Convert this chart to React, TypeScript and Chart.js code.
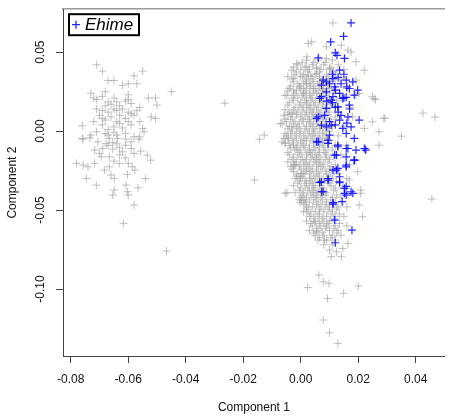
import React, { useEffect, useRef } from 'react';
import { Chart, registerables } from 'chart.js';

Chart.register(...registerables);

// ---- axis ticks ----
const xTickValues = [-0.08, -0.06, -0.04, -0.02, 0.0, 0.02, 0.04];
const yTickValues = [-0.1, -0.05, 0.0, 0.05];
const xRange = [-0.0827, 0.0501];
const yRange = [-0.1424, 0.0772];
const xTitle = 'Component 1';
const yTitle = 'Component 2';
const highlightLabel = 'Ehime';

// ---- data (Component 1, Component 2) ----
const grayLeftCluster: number[][] = [
  [-0.071, 0.042], [-0.069, 0.038], [-0.067, 0.032], [-0.065, 0.032], [-0.062, 0.029], [-0.060, 0.030],
  [-0.058, 0.035], [-0.055, 0.038], [-0.057, 0.030], [-0.073, 0.024], [-0.068, 0.025], [-0.072, 0.021],
  [-0.071, 0.020], [-0.069, 0.022], [-0.065, 0.021], [-0.064, 0.0185], [-0.067, 0.0185], [-0.060, 0.023],
  [-0.060, 0.020], [-0.059, 0.0175], [-0.053, 0.021], [-0.0505, 0.021], [-0.050, 0.0165], [-0.056, 0.015],
  [-0.071, 0.014], [-0.069, 0.013], [-0.067, 0.012], [-0.065, 0.014], [-0.064, 0.013], [-0.062, 0.014],
  [-0.060, 0.012], [-0.059, 0.011], [-0.058, 0.010], [-0.076, 0.0034], [-0.072, 0.006], [-0.069, 0.004],
  [-0.068, 0.007], [-0.065, 0.0027], [-0.063, 0.005], [-0.060, 0.006], [-0.056, 0.006], [-0.055, 0.0017],
  [-0.0505, 0.008], [-0.052, 0.009], [-0.073, -0.0025], [-0.071, -0.0004], [-0.068, -0.0015], [-0.067, -0.0025],
  [-0.064, -0.0025], [-0.061, -0.0015], [-0.058, -0.0036], [-0.0545, -0.0004], [-0.056, -0.0036], [-0.076, -0.0046],
  [-0.066, 0.017], [-0.063, 0.010], [-0.069, 0.008], [-0.064, 0.006], [-0.061, 0.019], [-0.067, 0.001],
  [-0.062, 0.002], [-0.065, -0.001], [-0.059, 0.004], [-0.070, 0.010], [-0.066, 0.009], [-0.061, 0.008],
  [-0.057, 0.013], [-0.063, 0.016], [-0.068, 0.016],
  [-0.0757, -0.0051], [-0.0734, -0.0042], [-0.0706, -0.0068], [-0.0666, -0.0046], [-0.0654, -0.0072],
  [-0.0637, -0.0046], [-0.0677, -0.0078], [-0.0608, -0.0051], [-0.059, -0.0068], [-0.0563, -0.0051],
  [-0.0717, -0.012], [-0.070, -0.0141], [-0.0689, -0.011], [-0.0654, -0.0114], [-0.0631, -0.0106],
  [-0.062, -0.0131], [-0.059, -0.011], [-0.058, -0.0141], [-0.0557, -0.0127], [-0.0534, -0.0152],
  [-0.0522, -0.0184], [-0.0694, -0.0163], [-0.0666, -0.0163], [-0.078, -0.0204], [-0.0757, -0.0215],
  [-0.074, -0.0226], [-0.0717, -0.0204], [-0.0666, -0.0226], [-0.0631, -0.0204], [-0.060, -0.0204],
  [-0.0586, -0.0226], [-0.0577, -0.0247], [-0.0683, -0.0247], [-0.0746, -0.030], [-0.0711, -0.0342],
  [-0.066, -0.0278], [-0.0649, -0.030], [-0.0603, -0.0274], [-0.054, -0.030], [-0.0608, -0.0342],
  [-0.0566, -0.0359], [-0.0649, -0.0373], [-0.0654, -0.0405], [-0.0603, -0.0384], [-0.060, -0.0405],
  [-0.058, -0.0468], [-0.0617, -0.0584],
  [-0.064, -0.008], [-0.061, -0.009], [-0.067, -0.009], [-0.063, -0.015], [-0.061, -0.017], [-0.065, -0.019],
];

const grayOutliers: number[][] = [
  [-0.045, 0.025], [-0.0264, 0.0177], [-0.0467, -0.0759], [-0.0161, -0.031], [-0.0144, -0.0051],
  [-0.0127, -0.0025], [0.0425, 0.0114], [0.0467, 0.0089], [0.0456, -0.043], [0.035, -0.0032], [0.0292, 0.0082],
  [0.0063, -0.0911], [0.0078, -0.0954], [0.0098, -0.0964], [0.0024, -0.099], [0.0093, -0.1059],
  [0.0149, -0.1027], [0.020, -0.0981], [0.0078, -0.1196], [0.010, -0.1277], [0.0129, -0.1344],
];

const grayMainEdge: number[][] = [
  [0.0112, 0.0685], [0.0026, 0.0555], [0.0038, 0.0565], [0.0089, 0.0534], [0.0141, 0.0544], [0.0164, 0.0513],
  [0.0175, 0.050], [0.0021, 0.047], [0.0089, 0.046], [0.0192, 0.0439], [-0.0014, 0.0428], [-0.0031, 0.0386],
  [0.0021, 0.0407], [0.0055, 0.0397], [0.010, 0.0397], [0.0221, 0.0386], [-0.0025, 0.0333], [-0.0002, 0.0344],
  [0.0026, 0.0354], [0.0055, 0.0365], [0.0066, 0.0333], [0.0112, 0.0375], [0.0192, 0.0323], [-0.0025, 0.026],
  [-0.0048, 0.0228], [-0.0002, 0.028], [0.0021, 0.030], [0.0043, 0.027], [0.0009, 0.0239], [0.0055, 0.0239],
  [0.0078, 0.026], [0.0249, 0.0218], [0.0203, 0.0239], [0.026, 0.020],
  [-0.0059, 0.010], [-0.0071, 0.0049], [-0.0031, 0.0027], [-0.0059, -0.0046], [-0.0054, -0.0078],
  [-0.0025, -0.0089], [-0.0025, -0.0215], [0.0003, -0.0268], [-0.0048, -0.039], [0.0003, -0.0437],
  [0.0255, 0.0207], [0.0226, -0.011], [0.0272, -0.0004], [0.0272, -0.0089], [0.0209, -0.0394], [0.0192, 0.0228],
  [-0.0031, 0.0112], [-0.0042, -0.0046], [-0.0065, -0.0068], [-0.002, -0.0215], [-0.0002, -0.0289],
  [0.0289, 0.008], [0.0249, 0.0059], [0.0221, 0.0017], [0.0192, -0.0184], [0.0198, -0.0257], [0.0169, -0.031],
  [-0.0054, -0.0394], [-0.0002, -0.0453], [0.0021, -0.051], [0.0049, -0.0574], [0.0055, -0.0637],
  [0.0083, -0.069], [0.0106, -0.0795], [0.0141, -0.0795], [0.0146, -0.0743], [0.0164, -0.0711],
  [0.0215, -0.0542], [0.0203, -0.0468], [0.0209, -0.0373], [0.010, -0.0753], [0.0124, -0.0764],
];

const grayMainCore: number[][] = [
  [0.002, 0.045], [0.006, 0.045], [0.011, 0.045],
  [-0.001, 0.042], [0.004, 0.042], [0.008, 0.042], [0.013, 0.042],
  [0.000, 0.039], [0.003, 0.039], [0.007, 0.039], [0.010, 0.039], [0.015, 0.039],
  [-0.002, 0.036], [0.001, 0.036], [0.005, 0.036], [0.009, 0.036], [0.012, 0.036],
  [-0.003, 0.033], [0.002, 0.033], [0.004, 0.033], [0.008, 0.033], [0.011, 0.033], [0.014, 0.033],
  [-0.001, 0.030], [0.001, 0.030], [0.003, 0.030], [0.006, 0.030], [0.009, 0.030], [0.012, 0.030],
  [-0.004, 0.027], [0.000, 0.027], [0.002, 0.027], [0.005, 0.027], [0.008, 0.027], [0.010, 0.027], [0.016, 0.027],
  [-0.002, 0.024], [0.001, 0.024], [0.003, 0.024], [0.006, 0.024], [0.009, 0.024], [0.012, 0.024],
  [-0.003, 0.021], [-0.001, 0.021], [0.002, 0.021], [0.004, 0.021], [0.007, 0.021], [0.010, 0.021], [0.014, 0.021],
  [-0.004, 0.018], [0.000, 0.018], [0.002, 0.018], [0.005, 0.018], [0.008, 0.018], [0.011, 0.018],
  [-0.002, 0.015], [0.001, 0.015], [0.003, 0.015], [0.006, 0.015], [0.009, 0.015], [0.013, 0.015], [0.017, 0.015],
  [-0.004, 0.012], [-0.001, 0.012], [0.002, 0.012], [0.004, 0.012], [0.007, 0.012], [0.010, 0.012],
  [-0.003, 0.009], [0.000, 0.009], [0.003, 0.009], [0.005, 0.009], [0.008, 0.009], [0.012, 0.009], [0.018, 0.009],
  [-0.005, 0.006], [-0.002, 0.006], [0.001, 0.006], [0.003, 0.006], [0.006, 0.006], [0.009, 0.006],
  [-0.004, 0.003], [-0.001, 0.003], [0.002, 0.003], [0.004, 0.003], [0.007, 0.003], [0.011, 0.003], [0.015, 0.003],
  [-0.003, 0.000], [0.000, 0.000], [0.003, 0.000], [0.005, 0.000], [0.008, 0.000], [0.010, 0.000],
  [-0.005, -0.003], [-0.002, -0.003], [0.001, -0.003], [0.004, -0.003], [0.006, -0.003], [0.009, -0.003], [0.013, -0.003],
  [-0.003, -0.006], [0.000, -0.006], [0.002, -0.006], [0.005, -0.006], [0.007, -0.006], [0.010, -0.006],
  [-0.004, -0.009], [-0.001, -0.009], [0.001, -0.009], [0.003, -0.009], [0.006, -0.009], [0.008, -0.009], [0.012, -0.009], [0.016, -0.009],
  [-0.002, -0.012], [0.000, -0.012], [0.003, -0.012], [0.005, -0.012], [0.008, -0.012], [0.011, -0.012],
  [-0.004, -0.015], [-0.001, -0.015], [0.002, -0.015], [0.004, -0.015], [0.006, -0.015], [0.009, -0.015], [0.014, -0.015],
  [-0.003, -0.018], [0.000, -0.018], [0.002, -0.018], [0.005, -0.018], [0.007, -0.018], [0.010, -0.018],
  [-0.002, -0.021], [0.001, -0.021], [0.003, -0.021], [0.006, -0.021], [0.008, -0.021], [0.012, -0.021], [0.017, -0.021],
  [-0.003, -0.024], [0.000, -0.024], [0.002, -0.024], [0.004, -0.024], [0.007, -0.024], [0.010, -0.024],
  [-0.001, -0.027], [0.001, -0.027], [0.003, -0.027], [0.006, -0.027], [0.009, -0.027], [0.013, -0.027],
  [-0.002, -0.030], [0.000, -0.030], [0.003, -0.030], [0.005, -0.030], [0.008, -0.030], [0.011, -0.030], [0.016, -0.030],
  [-0.001, -0.033], [0.002, -0.033], [0.004, -0.033], [0.007, -0.033], [0.010, -0.033],
  [0.000, -0.036], [0.003, -0.036], [0.005, -0.036], [0.008, -0.036], [0.012, -0.036], [0.015, -0.036],
  [-0.002, -0.039], [0.001, -0.039], [0.004, -0.039], [0.006, -0.039], [0.009, -0.039],
  [0.000, -0.042], [0.002, -0.042], [0.005, -0.042], [0.007, -0.042], [0.011, -0.042], [0.014, -0.042],
  [0.001, -0.045], [0.003, -0.045], [0.006, -0.045], [0.009, -0.045], [0.012, -0.045],
  [0.002, -0.048], [0.004, -0.048], [0.007, -0.048], [0.010, -0.048], [0.013, -0.048], [0.016, -0.048],
  [0.001, -0.051], [0.005, -0.051], [0.008, -0.051], [0.011, -0.051],
  [0.003, -0.054], [0.006, -0.054], [0.009, -0.054], [0.012, -0.054], [0.015, -0.054],
  [0.002, -0.057], [0.005, -0.057], [0.008, -0.057], [0.010, -0.057],
  [0.004, -0.060], [0.007, -0.060], [0.009, -0.060], [0.012, -0.060], [0.016, -0.060],
  [0.003, -0.063], [0.006, -0.063], [0.010, -0.063], [0.013, -0.063],
  [0.005, -0.066], [0.008, -0.066], [0.011, -0.066], [0.014, -0.066],
  [0.006, -0.069], [0.009, -0.069], [0.012, -0.069],
  [0.008, -0.072], [0.011, -0.072],
];

const grayMainFill: number[][] = [
  [0.0005, 0.0435], [0.0045, 0.0435], [0.0085, 0.0435],
  [-0.0025, 0.0405], [0.0015, 0.0405], [0.0055, 0.0405], [0.0105, 0.0405],
  [-0.0015, 0.0375], [0.0025, 0.0375], [0.0065, 0.0375], [0.0115, 0.0375],
  [-0.0045, 0.0345], [0.0005, 0.0345], [0.0035, 0.0345], [0.0065, 0.0345], [0.0095, 0.0345],
  [-0.0025, 0.0315], [0.0015, 0.0315], [0.0045, 0.0315], [0.0075, 0.0315], [0.0105, 0.0315],
  [-0.0035, 0.0285], [-0.0005, 0.0285], [0.0035, 0.0285], [0.0065, 0.0285], [0.0095, 0.0285],
  [-0.0045, 0.0255], [-0.0015, 0.0255], [0.0015, 0.0255], [0.0045, 0.0255], [0.0075, 0.0255], [0.0115, 0.0255],
  [-0.0055, 0.0225], [-0.0025, 0.0225], [0.0005, 0.0225], [0.0035, 0.0225], [0.0085, 0.0225],
  [-0.0025, 0.0195], [0.0015, 0.0195], [0.0035, 0.0195], [0.0065, 0.0195], [0.0095, 0.0195], [0.0125, 0.0195],
  [-0.0045, 0.0165], [-0.0005, 0.0165], [0.0025, 0.0165], [0.0045, 0.0165], [0.0075, 0.0165], [0.0105, 0.0165],
  [-0.0055, 0.0135], [-0.0025, 0.0135], [0.0005, 0.0135], [0.0035, 0.0135], [0.0055, 0.0135], [0.0085, 0.0135],
  [-0.0045, 0.0105], [-0.0015, 0.0105], [0.0015, 0.0105], [0.0045, 0.0105], [0.0065, 0.0105], [0.0095, 0.0105],
  [-0.0055, 0.0075], [-0.0035, 0.0075], [0.0005, 0.0075], [0.0025, 0.0075], [0.0045, 0.0075], [0.0075, 0.0075], [0.0105, 0.0075],
  [-0.0065, 0.0045], [-0.0025, 0.0045], [-0.0005, 0.0045], [0.0035, 0.0045], [0.0055, 0.0045], [0.0085, 0.0045],
  [-0.0045, 0.0015], [-0.0015, 0.0015], [0.0015, 0.0015], [0.0045, 0.0015], [0.0065, 0.0015], [0.0095, 0.0015],
  [-0.0055, -0.0015], [-0.0035, -0.0015], [-0.0005, -0.0015], [0.0025, -0.0015], [0.0045, -0.0015], [0.0075, -0.0015],
  [-0.0045, -0.0045], [-0.0015, -0.0045], [0.0015, -0.0045], [0.0035, -0.0045], [0.0065, -0.0045], [0.0085, -0.0045],
  [-0.0055, -0.0075], [-0.0025, -0.0075], [0.0005, -0.0075], [0.0045, -0.0075], [0.0075, -0.0075], [0.0095, -0.0075],
  [-0.0035, -0.0105], [-0.0015, -0.0105], [0.0015, -0.0105], [0.0045, -0.0105], [0.0065, -0.0105], [0.0095, -0.0105],
  [-0.0045, -0.0135], [-0.0005, -0.0135], [0.0025, -0.0135], [0.0035, -0.0135], [0.0065, -0.0135], [0.0085, -0.0135],
  [-0.0025, -0.0165], [0.0005, -0.0165], [0.0035, -0.0165], [0.0055, -0.0165], [0.0085, -0.0165], [0.0115, -0.0165],
  [-0.0045, -0.0195], [-0.0015, -0.0195], [0.0015, -0.0195], [0.0045, -0.0195], [0.0065, -0.0195], [0.0095, -0.0195],
  [-0.0035, -0.0225], [-0.0005, -0.0225], [0.0025, -0.0225], [0.0055, -0.0225], [0.0075, -0.0225], [0.0105, -0.0225],
  [-0.0025, -0.0255], [0.0015, -0.0255], [0.0035, -0.0255], [0.0055, -0.0255], [0.0085, -0.0255], [0.0115, -0.0255],
  [-0.0015, -0.0285], [0.0005, -0.0285], [0.0045, -0.0285], [0.0065, -0.0285], [0.0105, -0.0285],
  [-0.0005, -0.0315], [0.0015, -0.0315], [0.0035, -0.0315], [0.0065, -0.0315], [0.0095, -0.0315], [0.0125, -0.0315],
  [-0.0025, -0.0345], [0.0015, -0.0345], [0.0045, -0.0345], [0.0065, -0.0345], [0.0105, -0.0345],
  [-0.0005, -0.0375], [0.0025, -0.0375], [0.0045, -0.0375], [0.0075, -0.0375], [0.0115, -0.0375],
  [0.0005, -0.0405], [0.0035, -0.0405], [0.0055, -0.0405], [0.0085, -0.0405], [0.0125, -0.0405],
  [-0.0005, -0.0435], [0.0015, -0.0435], [0.0045, -0.0435], [0.0075, -0.0435], [0.0105, -0.0435],
  [0.0015, -0.0465], [0.0055, -0.0465], [0.0085, -0.0465], [0.0115, -0.0465],
  [0.0025, -0.0495], [0.0065, -0.0495], [0.0095, -0.0495], [0.0125, -0.0495],
  [0.0035, -0.0525], [0.0065, -0.0525], [0.0105, -0.0525], [0.0135, -0.0525],
  [0.0045, -0.0555], [0.0075, -0.0555], [0.0115, -0.0555],
  [0.0035, -0.0585], [0.0065, -0.0585], [0.0095, -0.0585], [0.0135, -0.0585],
  [0.0055, -0.0615], [0.0085, -0.0615], [0.0115, -0.0615],
  [0.0045, -0.0645], [0.0075, -0.0645], [0.0125, -0.0645],
  [0.0065, -0.0675], [0.0105, -0.0675],
];

const ehimePoints: number[][] = [
  [0.0175, 0.0685], [0.0149, 0.060], [0.0104, 0.0565], [0.012, 0.0496], [0.0126, 0.048], [0.0061, 0.0464],
  [0.0152, 0.046], [0.0135, 0.0386], [0.0112, 0.0333], [0.0089, 0.0312], [0.0158, 0.0323], [0.0181, 0.0312],
  [0.0072, 0.0291], [0.0118, 0.028], [0.0169, 0.027], [0.0198, 0.026], [0.0089, 0.0249], [0.0135, 0.0239],
  [0.0112, 0.0218], [0.0158, 0.0214], [0.0186, 0.0228],
  [0.0066, 0.0207], [0.0106, 0.0196], [0.0146, 0.0207], [0.0129, 0.0154], [0.0089, 0.0144], [0.0169, 0.0165],
  [0.0055, 0.008], [0.0083, 0.010], [0.0135, 0.007], [0.0164, 0.009], [0.0203, 0.007], [0.0089, 0.0027],
  [0.0146, 0.0017], [0.0175, 0.0027], [0.010, -0.0025], [0.0158, -0.0015], [0.0186, -0.0046], [0.0055, -0.0068],
  [0.0095, -0.0078], [0.0129, -0.0089], [0.0164, -0.011], [0.0192, -0.012], [0.0226, -0.012], [0.0118, -0.0152],
  [0.0158, -0.0163], [0.0186, -0.0184], [0.0129, -0.0236], [0.0158, -0.0226], [0.0112, -0.0247], [0.0095, -0.030],
  [0.0135, -0.0289], [0.0066, -0.0325],
  [0.0135, -0.0327], [0.0152, -0.0363], [0.0158, -0.0405], [0.0181, -0.0394], [0.0078, -0.0384],
  [0.0112, -0.0462], [0.0144, -0.0447], [0.0118, -0.0563], [0.0178, -0.0627], [0.012, -0.0707],
  [0.0078, 0.0323], [0.0072, 0.0218], [0.0061, 0.009], [0.0072, 0.0038], [0.0106, 0.0038], [0.0061, -0.0068],
  [0.0095, -0.0057], [0.0129, -0.0099], [0.0124, -0.0152], [0.0158, -0.011], [0.0221, -0.011], [0.0124, -0.0247],
  [0.0158, -0.0215], [0.0186, -0.0184], [0.0072, -0.0321], [0.0095, -0.031], [0.0135, -0.0321],
  [0.0072, -0.0384], [0.0158, -0.035], [0.0175, -0.0384], [0.0152, -0.0394], [0.0112, -0.0453],
  [0.010, 0.030], [0.012, 0.026], [0.014, 0.030], [0.016, 0.028], [0.011, 0.018], [0.013, 0.012],
  [0.015, 0.021], [0.017, 0.014], [0.010, 0.006], [0.012, 0.004], [0.014, 0.010], [0.016, 0.005],
  [0.009, 0.019], [0.013, 0.034], [0.011, 0.036], [0.015, 0.036], [0.012, 0.015],
];

const FONT = '"Liberation Sans", Arial, Helvetica, sans-serif';
const toXY = (arr: number[][]) => arr.map(([x, y]) => ({ x, y }));
const fmt = (v: number) => (Math.abs(v) < 1e-9 ? '0.00' : v.toFixed(2));

const legendBoxPlugin = {
  id: 'legendBox',
  afterDraw(chart: any) {
    const ctx = chart.ctx;
    const ds = chart.data.datasets[0];
    const { left, top } = chart.chartArea;
    const bx = left + 6;
    const by = top + 5;
    const bw = 70;
    const bh = 21;
    ctx.save();
    ctx.fillStyle = '#ffffff';
    ctx.fillRect(bx, by, bw, bh);
    ctx.lineWidth = 2;
    ctx.strokeStyle = '#000000';
    ctx.strokeRect(bx, by, bw, bh);
    const cx = bx + 7;
    const cy = by + bh / 2;
    ctx.strokeStyle = ds.borderColor;
    ctx.lineWidth = 1.3;
    ctx.beginPath();
    ctx.moveTo(cx - 4, cy);
    ctx.lineTo(cx + 4, cy);
    ctx.moveTo(cx, cy - 4);
    ctx.lineTo(cx, cy + 4);
    ctx.stroke();
    ctx.font = `italic 17px ${FONT}`;
    ctx.fillStyle = '#000000';
    ctx.textAlign = 'left';
    ctx.textBaseline = 'middle';
    ctx.fillText(ds.label, bx + 16, cy + 1);
    ctx.restore();
  },
};

export default function App() {
  const ref = useRef<HTMLCanvasElement | null>(null);

  useEffect(() => {
    if (!ref.current) return;
    const grayData = toXY([...grayLeftCluster, ...grayOutliers, ...grayMainEdge, ...grayMainCore, ...grayMainFill]);
    const chart = new Chart(ref.current, {
      type: 'scatter',
      data: {
        datasets: [
          {
            label: highlightLabel,
            data: toXY(ehimePoints),
            pointStyle: 'cross',
            radius: 4,
            borderColor: 'rgba(0,0,255,0.85)',
            backgroundColor: 'rgba(0,0,255,0.85)',
            borderWidth: 1.2,
          },
          {
            label: 'Other',
            data: grayData,
            pointStyle: 'cross',
            radius: 4,
            borderColor: 'rgba(165,165,165,0.7)',
            backgroundColor: 'rgba(165,165,165,0.7)',
            borderWidth: 1,
          },
        ],
      },
      options: {
        responsive: false,
        animation: false,
        layout: { padding: { top: 9, right: 0, left: 0, bottom: 0 } },
        plugins: {
          legend: { display: false },
          tooltip: { enabled: false },
        },
        elements: { point: { hoverRadius: 4 } },
        scales: {
          x: {
            type: 'linear',
            position: 'bottom',
            min: xRange[0],
            max: xRange[1],
            afterBuildTicks: (s: any) => {
              s.ticks = xTickValues.map((v) => ({ value: v }));
            },
            afterFit: (s: any) => {
              s.height = 60;
            },
            grid: { display: true, drawOnChartArea: false, drawTicks: true, tickLength: 7, color: '#444' },
            border: { display: true, color: '#444', width: 1 },
            ticks: {
              color: '#111',
              padding: 9,
              maxRotation: 0,
              autoSkip: false,
              font: { family: FONT, size: 12 },
              callback: (v: any) => fmt(Number(v)),
            },
            title: {
              display: true,
              text: xTitle,
              color: '#111',
              font: { family: FONT, size: 12 },
              padding: { top: 0, bottom: 1 },
            },
          },
          x2: {
            type: 'linear',
            position: 'top',
            min: xRange[0],
            max: xRange[1],
            grid: { display: false },
            ticks: { display: false },
            border: { display: true, color: '#9a9a9a', width: 1.5 },
            afterFit: (s: any) => {
              s.height = 0;
            },
          },
          y: {
            type: 'linear',
            position: 'left',
            min: yRange[0],
            max: yRange[1],
            afterBuildTicks: (s: any) => {
              s.ticks = yTickValues.map((v) => ({ value: v }));
            },
            afterFit: (s: any) => {
              s.width = 63;
            },
            grid: { display: true, drawOnChartArea: false, drawTicks: true, tickLength: 7, color: '#444' },
            border: { display: true, color: '#444', width: 1 },
            ticks: {
              color: '#111',
              padding: 2,
              minRotation: 90,
              maxRotation: 90,
              crossAlign: 'center',
              autoSkip: false,
              font: { family: FONT, size: 12 },
              callback: (v: any) => fmt(Number(v)),
            },
            title: {
              display: true,
              text: yTitle,
              color: '#111',
              font: { family: FONT, size: 12 },
              padding: { top: 5, bottom: 0 },
            },
          },
        },
      } as any,
      plugins: [legendBoxPlugin],
    });
    return () => chart.destroy();
  }, []);

  return (
    <div style={{ position: 'fixed', left: 0, top: 0, width: 450, height: 416, background: '#fff' }}>
      <canvas ref={ref} width={450} height={416} style={{ display: 'block' }} />
    </div>
  );
}
